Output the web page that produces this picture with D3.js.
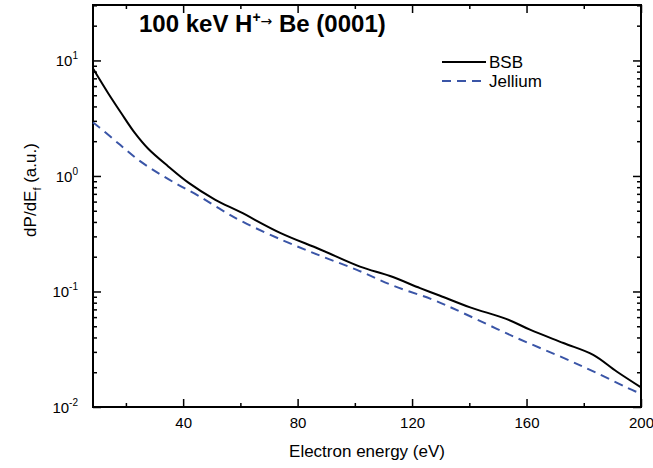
<!DOCTYPE html>
<html>
<head>
<meta charset="utf-8">
<script src="https://cdn.jsdelivr.net/npm/d3@7"></script>
<style>
  body { margin: 0; background: #fff; }
  text { font-family: "Liberation Sans", Arial, sans-serif; fill: #000; }
</style>
</head>
<body>
<div id="chart"></div>
<script>
var svgWidth = 653;
var svgHeight = 468;
var margin = { top: 5, right: 12, bottom: 61, left: 93 };
var width = svgWidth - margin.left - margin.right;
var height = svgHeight - margin.top - margin.bottom;

// values
var bsbEnergy = [8.5, 13.8, 18.4, 23.1, 27.8, 34.8, 41.7, 51.1, 59.9, 73.9, 87.9, 101.8, 112.3, 122.8, 129.8, 140.3, 153.1, 161.2, 172.9, 183.3, 191.5, 200];
var bsbValue = [8.5, 5.2, 3.49, 2.36, 1.72, 1.21, 0.88, 0.625, 0.488, 0.322, 0.231, 0.164, 0.136, 0.107, 0.0918, 0.0728, 0.0577, 0.0467, 0.0358, 0.0283, 0.0203, 0.0148];
var jelEnergy = [8.5, 10.1, 17.3, 24.3, 31.3, 38.3, 45.2, 53.4, 61.1, 75.0, 87.9, 100.7, 113.5, 127.4, 137.9, 155.4, 172.9, 184.5, 197.9, 200];
var jelValue = [2.9, 2.71, 1.92, 1.38, 1.06, 0.837, 0.677, 0.509, 0.398, 0.276, 0.204, 0.154, 0.112, 0.0847, 0.065, 0.0408, 0.0266, 0.0197, 0.0137, 0.0132];

var xMajor = [40, 80, 120, 160, 200];
var xMinor = [20, 60, 100, 140, 180];
var yMajor = [0.01, 0.1, 1, 10];
var yExponents = ["-2", "-1", "0", "1"];
var legendNames = ["BSB", "Jellium"];

var svg = d3.select("#chart")
            .append("svg")
            .attr("width", svgWidth)
            .attr("height", svgHeight);

var chartGroup = svg.append("g")
                    .attr("transform", `translate(${margin.left}, ${margin.top})`);

var xScale = d3.scaleLinear().domain([8.5, 200]).range([0, width]);
var yScale = d3.scaleLog().domain([0.01, 30.2]).range([height, 0]);

var yMinor = [];
[0.01, 0.1, 1, 10].forEach(function(dec) {
    for (var k = 2; k <= 9; k++) {
        if (dec * k <= 30.2) yMinor.push(dec * k);
    }
});

// minor ticks on all four sides
chartGroup.append("g").attr("transform", `translate(0, ${height})`)
    .call(d3.axisBottom(xScale).tickValues(xMinor).tickSize(-4).tickFormat(""));
chartGroup.append("g")
    .call(d3.axisTop(xScale).tickValues(xMinor).tickSize(-4).tickFormat(""));
chartGroup.append("g")
    .call(d3.axisLeft(yScale).tickValues(yMinor).tickSize(-4).tickFormat(""));
chartGroup.append("g").attr("transform", `translate(${width}, 0)`)
    .call(d3.axisRight(yScale).tickValues(yMinor).tickSize(-4).tickFormat(""));

// major ticks
var xAxis = chartGroup.append("g").attr("transform", `translate(0, ${height})`)
    .call(d3.axisBottom(xScale).tickValues(xMajor).tickSize(-8).tickPadding(10).tickFormat(d3.format("d")));
chartGroup.append("g")
    .call(d3.axisTop(xScale).tickValues(xMajor).tickSize(-8).tickFormat(""));
chartGroup.append("g")
    .call(d3.axisLeft(yScale).tickValues(yMajor).tickSize(-8).tickFormat(""));
chartGroup.append("g").attr("transform", `translate(${width}, 0)`)
    .call(d3.axisRight(yScale).tickValues(yMajor).tickSize(-8).tickFormat(""));

chartGroup.selectAll(".domain").remove();
chartGroup.selectAll(".tick line").attr("stroke", "#000").attr("stroke-width", 1.5);

xAxis.selectAll("text")
     .style("font-family", "'Liberation Sans', Arial, sans-serif")
     .style("font-size", "15px");

// y tick labels as 10 with superscript
yMajor.forEach(function(v, i) {
    var t = chartGroup.append("text")
        .attr("x", -15)
        .attr("y", yScale(v) + 6)
        .attr("text-anchor", "end")
        .style("font-size", "15px");
    t.append("tspan").text("10");
    t.append("tspan").attr("dy", -7).style("font-size", "10px").text(yExponents[i]);
});

// frame
chartGroup.append("rect")
    .attr("width", width)
    .attr("height", height)
    .attr("fill", "none")
    .attr("stroke", "#000")
    .attr("stroke-width", 2);

var line = d3.line()
    .x(d => xScale(d[0]))
    .y(d => yScale(d[1]))
    .curve(d3.curveCatmullRom.alpha(0.5));

chartGroup.append("path")
    .datum(d3.zip(jelEnergy, jelValue))
    .attr("d", line)
    .attr("fill", "none")
    .attr("stroke", "#3a55a7")
    .attr("stroke-width", 2)
    .attr("stroke-dasharray", "9,6");

chartGroup.append("path")
    .datum(d3.zip(bsbEnergy, bsbValue))
    .attr("d", line)
    .attr("fill", "none")
    .attr("stroke", "#000")
    .attr("stroke-width", 2);

// title
var title = svg.append("text")
    .attr("x", 139)
    .attr("y", 32)
    .style("font-size", "24px")
    .style("font-weight", "bold");
title.append("tspan").text("100 keV H");
title.append("tspan").attr("dy", -10).style("font-size", "14px").text("+");
title.append("tspan").attr("dy", 4)
    .style("font-family", "'DejaVu Sans', sans-serif")
    .style("font-weight", "normal")
    .style("font-size", "14px").text("\u2192");
title.append("tspan").attr("dy", 6).text(" Be (0001)");

// legend
var legend = svg.append("g");
legendNames.forEach(function(name, i) {
    var ly = 62 + i * 19;
    legend.append("line")
        .attr("x1", 442).attr("x2", 486)
        .attr("y1", ly).attr("y2", ly)
        .attr("stroke", i === 0 ? "#000" : "#3a55a7")
        .attr("stroke-width", 2)
        .attr("stroke-dasharray", i === 0 ? null : "9,6");
    legend.append("text")
        .attr("x", 489)
        .attr("y", ly + 6)
        .style("font-size", "17px")
        .text(name);
});

// axis titles
svg.append("text")
    .attr("x", margin.left + width / 2)
    .attr("y", 457)
    .attr("text-anchor", "middle")
    .style("font-size", "17px")
    .text("Electron energy (eV)");

var yLabel = svg.append("text")
    .attr("transform", "translate(36, 190) rotate(-90)")
    .attr("text-anchor", "middle")
    .style("font-size", "17px");
yLabel.append("tspan").text("dP/dE");
yLabel.append("tspan").attr("dy", 5).style("font-size", "11px").text("f");
yLabel.append("tspan").attr("dy", -5).text(" (a.u.)");
</script>
</body>
</html>
